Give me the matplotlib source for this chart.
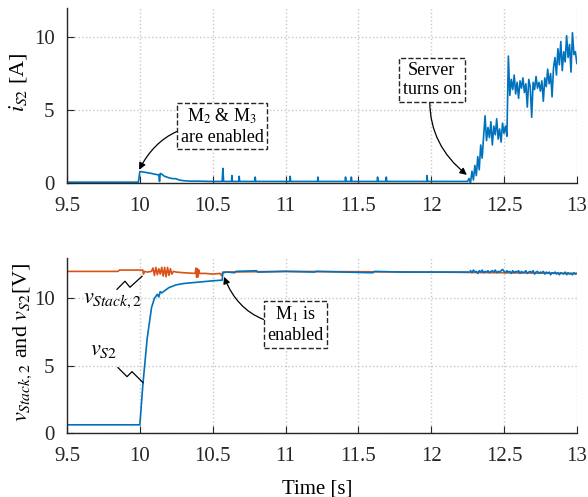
import numpy as np
import matplotlib
matplotlib.use("Agg")
import matplotlib.pyplot as plt

plt.rcParams["font.family"] = ["Liberation Serif", "DejaVu Serif"]
plt.rcParams["mathtext.fontset"] = "stix"

blue = "#0072BD"
orange = "#D95319"

# --- top panel: current i_S2 [A] ---
t_i_calm = [9.5, 9.99, 10.0, 10.02, 10.05, 10.08, 10.1, 10.13, 10.135, 10.14, 10.15,
            10.17, 10.2, 10.22, 10.25, 10.27, 10.3, 10.35, 10.4, 10.5, 10.565, 10.57,
            10.575, 10.63, 10.632, 10.635, 10.68, 10.682, 10.685, 10.79, 10.792, 10.795,
            11.03, 11.032, 11.035, 11.22, 11.222, 11.225, 11.41, 11.412, 11.415, 11.45,
            11.452, 11.455, 11.63, 11.632, 11.635, 11.69, 11.692, 11.695, 11.97, 11.972,
            11.975, 12.24]
i_calm = [0.05, 0.05, 0.78, 0.75, 0.7, 0.65, 0.6, 0.55, 0.1, 0.65, 0.6,
          0.45, 0.35, 0.3, 0.28, 0.2, 0.15, 0.12, 0.12, 0.1, 0.1, 1.0,
          0.1, 0.1, 0.5, 0.1, 0.1, 0.45, 0.1, 0.1, 0.4, 0.1,
          0.1, 0.45, 0.1, 0.1, 0.4, 0.1, 0.1, 0.4, 0.1, 0.1,
          0.4, 0.1, 0.1, 0.4, 0.1, 0.1, 0.4, 0.1, 0.1, 0.5,
          0.1, 0.1]

# server load, sampled every 10 ms from 12.25 s to 13.0 s
i_load = [0.1, 0.3, 0.0, 0.8, 0.2, 1.2, 0.5, 1.8, 0.9, 2.6,
          1.7, 3.2, 4.6, 2.9, 3.8, 3.1, 4.2, 2.6, 3.9, 3.3,
          4.4, 3.0, 3.7, 2.8, 4.1, 3.4, 3.9, 3.2, 8.7, 6.0,
          7.1, 6.4, 7.4, 6.1, 6.9, 5.8, 7.0, 6.5, 7.2, 6.2,
          6.8, 5.2, 7.1, 6.6, 4.5, 6.9, 6.4, 7.3, 6.5, 6.9,
          6.3, 7.0, 5.6, 7.2, 6.6, 7.8, 6.8, 7.5, 5.9, 7.9,
          8.6, 7.4, 9.2, 8.1, 9.7, 7.7, 9.0, 8.3, 10.1, 8.6,
          9.5, 7.6, 10.3, 8.8, 9.0, 8.2]
t_load = np.linspace(12.25, 13.0, len(i_load))

# --- bottom panel: voltages [V] ---
t_stack = [9.5, 9.85, 9.86, 10.02, 10.025, 10.03, 10.05, 10.08, 10.09, 10.10, 10.11,
           10.12, 10.13, 10.14, 10.15, 10.16, 10.17, 10.18, 10.19, 10.20, 10.21, 10.22,
           10.23, 10.25, 10.3, 10.38, 10.385, 10.39, 10.395, 10.40, 10.405, 10.41, 10.45,
           10.5, 10.55, 10.56, 10.57, 11.0, 12.0, 13.0]
v_stack = [12.0, 12.0, 12.1, 12.1, 11.8, 12.0, 11.95, 12.0, 12.25, 11.7, 12.3,
           11.75, 12.2, 11.8, 12.3, 11.65, 12.3, 11.6, 12.3, 11.7, 12.2, 11.8,
           12.0, 11.95, 11.9, 11.85, 12.25, 11.55, 12.2, 11.6, 12.1, 11.85, 11.85,
           11.8, 11.85, 11.7, 11.95, 12.0, 11.95, 11.85]

t_s2 = [9.5, 10.0, 10.02, 10.05, 10.08, 10.1, 10.12, 10.13, 10.14, 10.15, 10.2,
        10.25, 10.3, 10.4, 10.5, 10.565, 10.57, 10.6, 10.65, 10.66, 10.8, 10.81,
        11.0, 11.2, 11.21, 11.4, 11.6, 11.61, 11.8, 12.0, 12.26]
v_s2 = [0.6, 0.6, 3.5, 7.0, 9.3, 10.0, 10.3, 10.1, 10.5, 10.4, 10.8,
        11.0, 11.1, 11.2, 11.3, 11.35, 11.9, 11.95, 11.9, 12.0, 12.05, 11.95,
        12.0, 11.95, 12.0, 11.95, 11.9, 12.0, 11.95, 11.95, 11.95]

# ripple while the server runs, every 10 ms from 12.27 s to 13.0 s
v_s2_load = [12.05, 11.9, 12.1, 11.95, 12.0, 11.85, 12.05, 11.95, 12.1, 11.9,
             12.0, 11.95, 12.05, 11.9, 12.0, 12.05, 11.95, 12.1, 11.9, 12.0,
             11.95, 12.05, 12.15, 12.0, 11.9, 12.05, 11.95, 12.0, 11.85, 12.05,
             11.9, 12.0, 11.95, 12.05, 11.85, 12.0, 11.9, 11.95, 12.05, 11.85,
             11.95, 12.0, 11.9, 12.05, 11.8, 11.95, 12.0, 11.85, 11.95, 11.9,
             12.0, 11.8, 11.95, 11.85, 11.95, 11.75, 11.9, 11.85, 11.95, 11.8,
             11.9, 11.75, 11.9, 11.85, 11.8, 11.95, 11.75, 11.9, 11.8, 11.85,
             11.75, 11.9, 11.8, 11.85]
t_s2_load = np.linspace(12.27, 13.0, len(v_s2_load))

xticks = [9.5, 10, 10.5, 11, 11.5, 12, 12.5, 13]
xticklabels = ["9.5", "10", "10.5", "11", "11.5", "12", "12.5", "13"]

fig = plt.figure(figsize=(5.88, 4.97), dpi=100)
ax1 = fig.add_axes([0.114, 0.632, 0.867, 0.352])
ax2 = fig.add_axes([0.114, 0.129, 0.867, 0.352])

ax1.plot(t_i_calm, i_calm, color=blue, lw=1.2)
ax1.plot(t_load, i_load, color=blue, lw=1.2)

ax2.plot(t_stack, v_stack, color=orange, lw=1.2)
ax2.plot(t_s2, v_s2, color=blue, lw=1.2)
ax2.plot(t_s2_load, v_s2_load, color=blue, lw=1.2)

for ax, top in [(ax1, 12), (ax2, 13)]:
    ax.set_xlim(9.5, 13)
    ax.set_ylim(0, top)
    ax.set_xticks(xticks)
    ax.set_xticklabels(xticklabels)
    ax.set_yticks([0, 5, 10])
    ax.spines["top"].set_visible(False)
    ax.spines["right"].set_visible(False)
    for s in ["left", "bottom"]:
        ax.spines[s].set_color("#262626")
        ax.spines[s].set_linewidth(1.0)
    ax.tick_params(direction="in", length=5, labelsize=15, colors="#262626")
    ax.tick_params(axis="x", pad=10)
    ax.tick_params(axis="y", pad=9)
    ax.grid(True, linestyle=":", color="#c8c8c8", linewidth=1.0)
    ax.set_axisbelow(True)

ax1.set_ylabel("$i_{S2}$ [A]", fontsize=16)
ax1.yaxis.set_label_coords(-0.075, 0.577)
ax2.set_ylabel("$v_{Stack,2}$ and $v_{S2}$[V]", fontsize=16)
ax2.yaxis.set_label_coords(-0.065, 0.52)
ax2.set_xlabel("Time [s]", fontsize=15, va="top")
ax2.xaxis.set_label_coords(0.49, -0.265)

box = dict(boxstyle="square,pad=0.2", fc="white", ec="#262626", ls="--", lw=1.0)
arrow = dict(arrowstyle="-|>", color="black", lw=0.9, mutation_scale=10,
             shrinkA=0, shrinkB=0)

ax1.annotate("M$_2$ & M$_3$\nare enabled", xy=(9.995, 0.9), xytext=(10.565, 3.9),
             ha="center", va="center", fontsize=13, bbox=box,
             arrowprops=dict(arrow, connectionstyle="arc3,rad=0.35"))
ax1.annotate("Server\nturns on", xy=(12.245, 0.55), xytext=(12.005, 7.05),
             ha="center", va="center", fontsize=13, bbox=box,
             arrowprops=dict(arrow, connectionstyle="arc3,rad=0.3"))
ax2.annotate("M$_1$ is\nenabled", xy=(10.578, 11.6), xytext=(11.07, 8.05),
             ha="center", va="center", fontsize=13, bbox=box,
             arrowprops=dict(arrow, connectionstyle="arc3,rad=-0.35"))

# zigzag leaders for the trace labels
ax2.plot([9.843, 9.898, 9.932, 10.015], [10.67, 11.27, 10.82, 11.64], color="black", lw=0.9)
ax2.plot([9.85, 9.912, 9.946, 10.022], [4.85, 4.18, 4.55, 3.73], color="black", lw=0.9)
ax2.text(9.61, 9.85, "$v_{Stack,2}$", fontsize=16, ha="left", va="center")
ax2.text(9.655, 6.1, "$v_{S2}$", fontsize=16, ha="left", va="center")

fig.savefig("out.png", dpi=100)
